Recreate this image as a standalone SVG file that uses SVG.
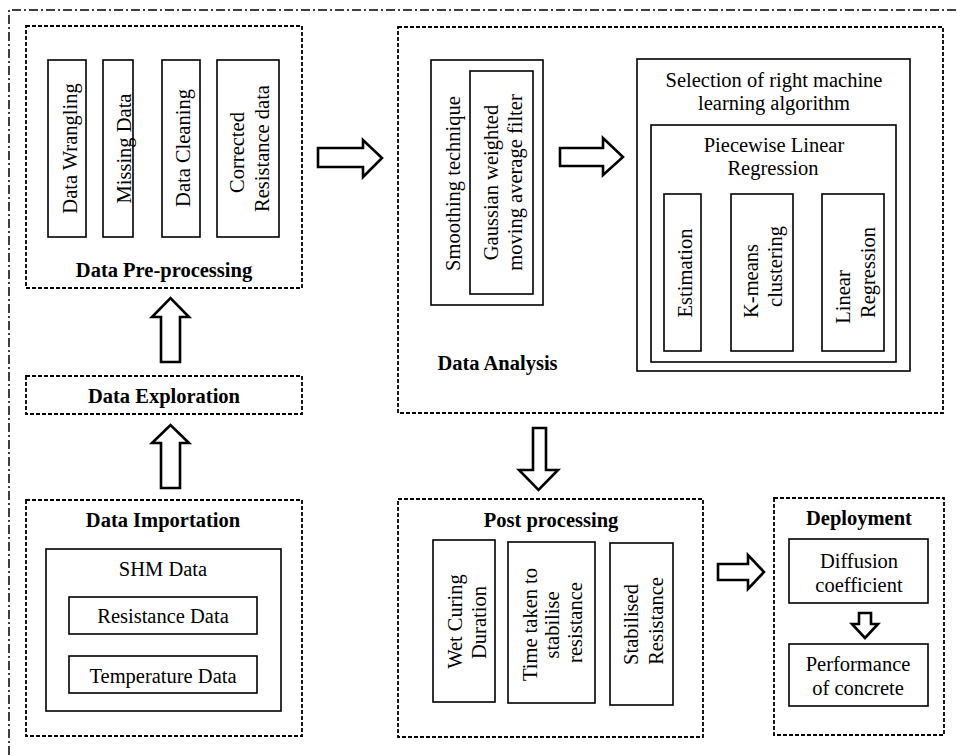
<svg xmlns="http://www.w3.org/2000/svg" width="957" height="755" viewBox="0 0 957 755">
<style>
text{font-family:"Liberation Serif","Times New Roman",serif;font-size:20.5px;fill:#000}
.b{font-weight:bold}
.m{text-anchor:middle}
.dash{fill:none;stroke:#000;stroke-width:1.8;stroke-dasharray:4 2}
.solid{fill:none;stroke:#000;stroke-width:1.6}
.frame{fill:none;stroke:#000;stroke-width:1.5;stroke-dasharray:9 3 2 3}
.arr{fill:#fff;stroke:#000;stroke-width:2.6;stroke-linejoin:miter}
</style>
<rect width="957" height="755" fill="#fff"/>
<path class="frame" d="M9 755 L9 10 L957 10"/>

<g id="preprocessing">
<rect class="dash" x="26" y="26" width="276" height="262"/>
<rect class="solid" x="48" y="60" width="38" height="177"/>
<rect class="solid" x="103" y="60" width="30" height="177"/>
<rect class="solid" x="162" y="60" width="38" height="177"/>
<rect class="solid" x="217" y="60" width="62" height="177"/>
<text class="m" transform="translate(77,148.5) rotate(-90)">Data Wrangling</text>
<text class="m" transform="translate(131,148.5) rotate(-90)">Missing Data</text>
<text class="m" transform="translate(190,148) rotate(-90)">Data Cleaning</text>
<text class="m" transform="translate(244,152.5) rotate(-90)">Corrected</text>
<text class="m" transform="translate(269,148.5) rotate(-90)">Resistance data</text>
<text class="b m" x="164" y="277">Data Pre-processing</text>
</g>

<g id="exploration">
<rect class="dash" x="26" y="376" width="276" height="38"/>
<text class="b m" x="164" y="403">Data Exploration</text>
</g>

<g id="importation">
<rect class="dash" x="26" y="500" width="276" height="236"/>
<text class="b m" x="163" y="527">Data Importation</text>
<rect class="solid" x="46" y="549" width="235" height="162"/>
<text class="m" x="163" y="576">SHM Data</text>
<rect class="solid" x="69" y="597" width="188" height="37"/>
<text class="m" x="163" y="623">Resistance Data</text>
<rect class="solid" x="69" y="656" width="188" height="37"/>
<text class="m" x="163" y="683">Temperature Data</text>
</g>

<g id="analysis">
<rect class="dash" x="398" y="27" width="545" height="386"/>
<rect class="solid" x="431" y="60" width="112" height="245"/>
<rect class="solid" x="470" y="71" width="63" height="223"/>
<text class="m" transform="translate(460,183.5) rotate(-90)">Smoothing technique</text>
<text class="m" transform="translate(498,182.5) rotate(-90)">Gaussian weighted</text>
<text class="m" transform="translate(522,182.5) rotate(-90)">moving average filter</text>
<text class="b m" x="497.5" y="370">Data Analysis</text>
<rect class="solid" x="637" y="59" width="273" height="312"/>
<text class="m" x="774" y="87">Selection of right machine</text>
<text class="m" x="774" y="110">learning algorithm</text>
<rect class="solid" x="651" y="125" width="245" height="237"/>
<text class="m" x="774" y="152">Piecewise Linear</text>
<text class="m" x="773" y="175">Regression</text>
<rect class="solid" x="664" y="194" width="37" height="157"/>
<rect class="solid" x="731" y="194" width="62" height="157"/>
<rect class="solid" x="822" y="194" width="62" height="157"/>
<text class="m" transform="translate(692,273) rotate(-90)">Estimation</text>
<text class="m" transform="translate(758,281) rotate(-90)">K-means</text>
<text class="m" transform="translate(782,266.5) rotate(-90)">clustering</text>
<text class="m" transform="translate(850,297) rotate(-90)">Linear</text>
<text class="m" transform="translate(875,272.5) rotate(-90)">Regression</text>
</g>

<g id="postprocessing">
<rect class="dash" x="398" y="499" width="305" height="238"/>
<text class="b m" x="551" y="527">Post processing</text>
<rect class="solid" x="433" y="540" width="62" height="162"/>
<rect class="solid" x="508" y="542" width="87" height="161"/>
<rect class="solid" x="610" y="543" width="63" height="162"/>
<text class="m" transform="translate(462,621.5) rotate(-90)">Wet Curing</text>
<text class="m" transform="translate(486,622.5) rotate(-90)">Duration</text>
<text class="m" transform="translate(537,624.5) rotate(-90)">Time taken to</text>
<text class="m" transform="translate(559,625) rotate(-90)">stabilise</text>
<text class="m" transform="translate(582,622.5) rotate(-90)">resistance</text>
<text class="m" transform="translate(638,624.5) rotate(-90)">Stabilised</text>
<text class="m" transform="translate(663,621) rotate(-90)">Resistance</text>
</g>

<g id="deployment">
<rect class="dash" x="774" y="498" width="170" height="237"/>
<text class="b m" x="859" y="525">Deployment</text>
<rect class="solid" x="789" y="539" width="139" height="64"/>
<text class="m" x="859" y="568">Diffusion</text>
<text class="m" x="859" y="592">coefficient</text>
<rect class="solid" x="789" y="644" width="139" height="62"/>
<text class="m" x="858" y="671">Performance</text>
<text class="m" x="858" y="695">of concrete</text>
</g>

<g id="connectors">
<polygon class="arr" points="161,362 161,317 152,317 170.5,298 189,317 180,317 180,362"/>
<polygon class="arr" points="161,488 161,443 152,443 170.5,425 189,443 180,443 180,488"/>
<polygon class="arr" points="318,148 363,148 363,140 382,158 363,177 363,167 318,167"/>
<polygon class="arr" points="560,148 603,148 603,138 623,157 603,175 603,166 560,166"/>
<polygon class="arr" points="533,428 546,428 546,470 558,470 538.5,490 519,470 533,470"/>
<polygon class="arr" points="718,564 748,564 748,555 764,572 748,589 748,580 718,580"/>
<polygon class="arr" points="859,613 871,613 871,624 878,624 865,638 852,624 859,624"/>
</g>
</svg>
